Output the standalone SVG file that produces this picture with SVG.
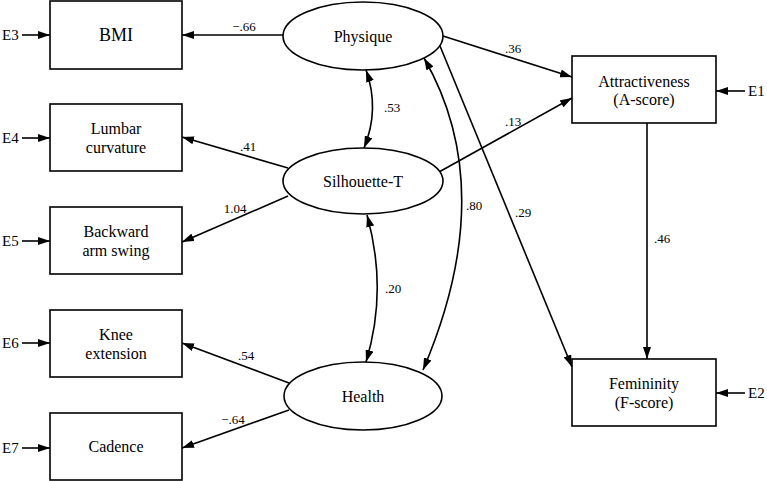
<svg xmlns="http://www.w3.org/2000/svg" width="767" height="481" viewBox="0 0 767 481">
<style>
text{font-family:"Liberation Serif",serif;fill:#000}
.n{font-size:18px;text-anchor:middle}
.s{font-size:16px;text-anchor:middle}
.c{font-size:13px;text-anchor:middle}
.e{font-size:15px}
rect,ellipse{fill:#fff;stroke:#000;stroke-width:1.6}
#conn path,#conn line{stroke:#000;stroke-width:1.6;fill:none}
.a{marker-end:url(#ah)}
.b{marker-start:url(#ahs);marker-end:url(#ah)}
</style>
<defs>
<marker id="ah" viewBox="0 0 12 8" refX="12" refY="4" markerWidth="12" markerHeight="8" markerUnits="userSpaceOnUse" orient="auto"><path d="M0,0L12,4L0,8z" fill="#000"/></marker>
<marker id="ahs" viewBox="0 0 12 8" refX="0" refY="4" markerWidth="12" markerHeight="8" markerUnits="userSpaceOnUse" orient="auto"><path d="M12,0L0,4L12,8z" fill="#000"/></marker>
</defs>
<rect width="767" height="481" fill="#fff" style="stroke:none"/>
<g id="conn">
<line class="a" x1="283" y1="35" x2="182" y2="35"/>
<line class="a" x1="288" y1="168" x2="182" y2="137"/>
<line class="a" x1="288" y1="196" x2="182" y2="242"/>
<line class="a" x1="289" y1="383" x2="182" y2="343"/>
<line class="a" x1="289" y1="410" x2="182" y2="448"/>
<line class="a" x1="22" y1="35" x2="50" y2="35"/>
<line class="a" x1="22" y1="138" x2="50" y2="138"/>
<line class="a" x1="22" y1="241" x2="50" y2="241"/>
<line class="a" x1="22" y1="343" x2="50" y2="343"/>
<line class="a" x1="22" y1="448" x2="50" y2="448"/>
<line class="a" x1="443" y1="36" x2="572" y2="77"/>
<line class="a" x1="439" y1="172" x2="572" y2="98"/>
<line class="a" x1="440" y1="46" x2="572" y2="367"/>
<line class="a" x1="647" y1="123" x2="647" y2="359"/>
<line class="a" x1="745" y1="91" x2="716" y2="91"/>
<line class="a" x1="745" y1="393" x2="716" y2="393"/>
<path class="b" d="M366,70 Q380,109 364,148"/>
<path class="b" d="M367,215 Q388,290 366,362"/>
<path class="b" d="M424,58 Q500,190 423,370"/>
</g>
<g class="c">
<text x="244" y="31">−.66</text>
<text x="248" y="151">.41</text>
<text x="235" y="213">1.04</text>
<text x="246" y="360">.54</text>
<text x="233" y="424">−.64</text>
<text x="513" y="53">.36</text>
<text x="513" y="126">.13</text>
<text x="523" y="217">.29</text>
<text x="662" y="243">.46</text>
<text x="392" y="112">.53</text>
<text x="393" y="293">.20</text>
<text x="474" y="210">.80</text>
</g>
<g class="e">
<text x="2" y="40">E3</text>
<text x="2" y="143">E4</text>
<text x="2" y="246">E5</text>
<text x="2" y="348">E6</text>
<text x="2" y="453">E7</text>
<text x="748" y="96">E1</text>
<text x="748" y="398">E2</text>
</g>
<g id="bmi"><rect x="50" y="1" width="132" height="68"/><text class="n" x="116" y="41">BMI</text></g>
<g id="lumbar"><rect x="50" y="104" width="132" height="67"/><text class="s" x="116" y="134">Lumbar</text><text class="s" x="116" y="153">curvature</text></g>
<g id="backward"><rect x="50" y="207" width="132" height="67"/><text class="s" x="116" y="237">Backward</text><text class="s" x="116" y="256">arm swing</text></g>
<g id="knee"><rect x="50" y="310" width="132" height="67"/><text class="s" x="116" y="340">Knee</text><text class="s" x="116" y="359">extension</text></g>
<g id="cadence"><rect x="50" y="413" width="132" height="67"/><text class="s" x="116" y="452">Cadence</text></g>
<g id="physique"><ellipse cx="363" cy="36" rx="80" ry="34"/><text class="s" x="363" y="42">Physique</text></g>
<g id="silhouette"><ellipse cx="363" cy="181" rx="80" ry="33"/><text class="s" x="363" y="187">Silhouette-T</text></g>
<g id="health"><ellipse cx="363" cy="396" rx="79" ry="34"/><text class="s" x="363" y="402">Health</text></g>
<g id="attr"><rect x="572" y="56" width="144" height="67"/><text class="s" x="644" y="87">Attractiveness</text><text class="s" x="644" y="105">(A-score)</text></g>
<g id="fem"><rect x="572" y="359" width="144" height="67"/><text class="s" x="644" y="389">Femininity</text><text class="s" x="644" y="408">(F-score)</text></g>
</svg>
